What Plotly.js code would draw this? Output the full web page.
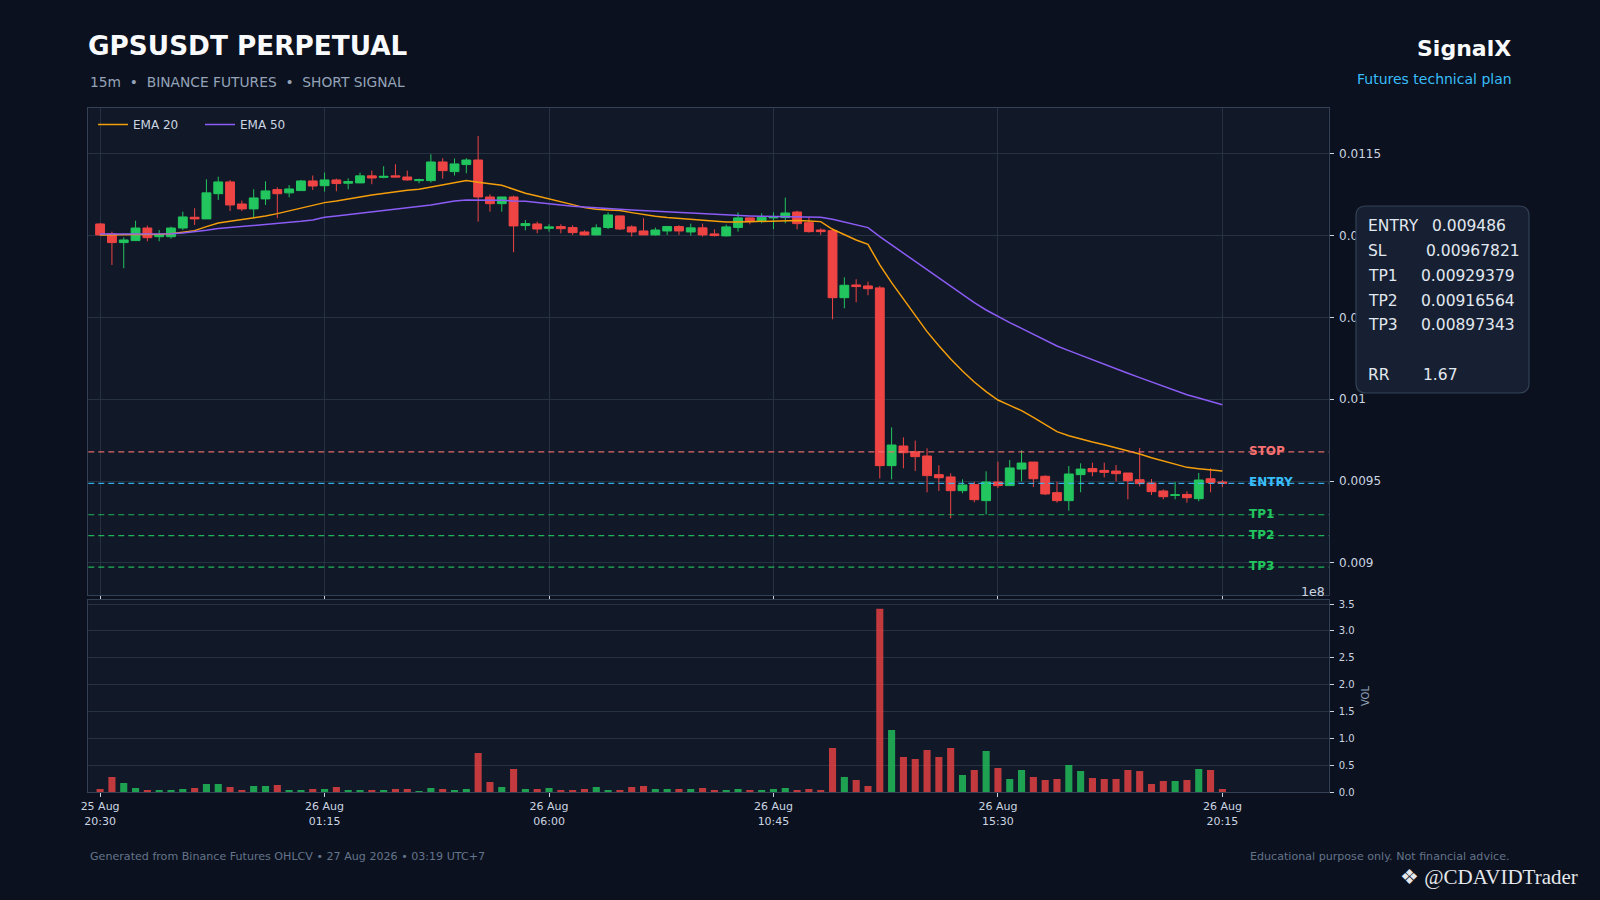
<!DOCTYPE html>
<html>
<head>
<meta charset="utf-8">
<script src="https://cdn.plot.ly/plotly-3.0.1.min.js"></script>
<style>
  html, body { margin: 0; padding: 0; background: #0b111e; }
  #chart { width: 1600px; height: 900px; }
</style>
</head>
<body>
<div id="chart"></div>
<script>
/* ── GPSUSDT 15m candles ── */

const OPEN = [
  0.011072, 0.011011, 0.010958, 0.010970, 0.011047, 0.010994, 0.010994, 0.011047, 0.011113, 0.011103,
  0.011257, 0.011329, 0.011194, 0.011164, 0.011225, 0.011282, 0.011262, 0.011276, 0.011335, 0.011306,
  0.011341, 0.011321, 0.011323, 0.011366, 0.011357, 0.011366, 0.011359, 0.011337, 0.011337, 0.011451,
  0.011392, 0.011435, 0.011463, 0.011237, 0.011196, 0.011237, 0.011062, 0.011072, 0.011045, 0.011056,
  0.011050, 0.011023, 0.011005, 0.011050, 0.011121, 0.011054, 0.011029, 0.011005, 0.011029, 0.011056,
  0.011023, 0.011048, 0.011011, 0.010999, 0.011050, 0.011109, 0.011090, 0.011109, 0.011111, 0.011145,
  0.011080, 0.011035, 0.011031, 0.010621, 0.010699, 0.010693, 0.010681, 0.009594, 0.009714, 0.009679,
  0.009653, 0.009539, 0.009525, 0.009441, 0.009478, 0.009380, 0.009494, 0.009472, 0.009573, 0.009616,
  0.009529, 0.009429, 0.009380, 0.009539, 0.009576, 0.009565, 0.009561, 0.009549, 0.009508, 0.009488,
  0.009439, 0.009412, 0.009418, 0.009392, 0.009514, 0.009494
];
const HIGH = [
  0.011078, 0.011025, 0.010990, 0.011092, 0.011062, 0.011035, 0.011056, 0.011147, 0.011168, 0.011345,
  0.011361, 0.011341, 0.011215, 0.011284, 0.011333, 0.011296, 0.011310, 0.011341, 0.011368, 0.011386,
  0.011349, 0.011351, 0.011386, 0.011398, 0.011425, 0.011437, 0.011398, 0.011349, 0.011498, 0.011474,
  0.011472, 0.011474, 0.011610, 0.011253, 0.011237, 0.011245, 0.011096, 0.011086, 0.011070, 0.011070,
  0.011064, 0.011033, 0.011070, 0.011143, 0.011123, 0.011064, 0.011107, 0.011050, 0.011060, 0.011064,
  0.011074, 0.011074, 0.011039, 0.011068, 0.011143, 0.011111, 0.011137, 0.011143, 0.011233, 0.011153,
  0.011113, 0.011045, 0.011045, 0.010746, 0.010734, 0.010719, 0.010693, 0.009828, 0.009767, 0.009747,
  0.009700, 0.009596, 0.009547, 0.009510, 0.009496, 0.009559, 0.009618, 0.009629, 0.009688, 0.009616,
  0.009535, 0.009496, 0.009592, 0.009608, 0.009612, 0.009612, 0.009598, 0.009549, 0.009702, 0.009512,
  0.009449, 0.009494, 0.009437, 0.009549, 0.009578, 0.009506
];
const LOW = [
  0.011000, 0.010821, 0.010801, 0.010970, 0.010966, 0.010966, 0.010982, 0.011035, 0.011066, 0.011103,
  0.011219, 0.011151, 0.011151, 0.011107, 0.011188, 0.011107, 0.011235, 0.011274, 0.011280, 0.011270,
  0.011272, 0.011284, 0.011321, 0.011315, 0.011351, 0.011357, 0.011337, 0.011321, 0.011325, 0.011349,
  0.011368, 0.011382, 0.011086, 0.011147, 0.011147, 0.010899, 0.011033, 0.011015, 0.011025, 0.011015,
  0.011005, 0.011001, 0.011001, 0.011041, 0.011035, 0.010995, 0.011005, 0.011001, 0.011005, 0.011005,
  0.011001, 0.010995, 0.010995, 0.010995, 0.011025, 0.011070, 0.011076, 0.011041, 0.011076, 0.011039,
  0.011019, 0.011005, 0.010489, 0.010556, 0.010593, 0.010636, 0.009516, 0.009510, 0.009578, 0.009561,
  0.009431, 0.009439, 0.009272, 0.009425, 0.009370, 0.009296, 0.009457, 0.009472, 0.009498, 0.009463,
  0.009414, 0.009368, 0.009319, 0.009431, 0.009529, 0.009522, 0.009498, 0.009388, 0.009467, 0.009414,
  0.009388, 0.009388, 0.009368, 0.009376, 0.009431, 0.009463
];
const CLOSE = [
  0.011005, 0.010958, 0.010974, 0.011047, 0.010988, 0.011007, 0.011047, 0.011115, 0.011103, 0.011262,
  0.011329, 0.011188, 0.011164, 0.011231, 0.011274, 0.011257, 0.011286, 0.011335, 0.011304, 0.011341,
  0.011319, 0.011331, 0.011366, 0.011353, 0.011363, 0.011359, 0.011341, 0.011343, 0.011451, 0.011398,
  0.011439, 0.011463, 0.011237, 0.011196, 0.011237, 0.011060, 0.011074, 0.011041, 0.011054, 0.011043,
  0.011019, 0.011005, 0.011048, 0.011127, 0.011041, 0.011023, 0.011005, 0.011035, 0.011056, 0.011029,
  0.011048, 0.011005, 0.011001, 0.011054, 0.011109, 0.011086, 0.011113, 0.011115, 0.011139, 0.011074,
  0.011025, 0.011025, 0.010621, 0.010697, 0.010689, 0.010676, 0.009594, 0.009720, 0.009673, 0.009649,
  0.009533, 0.009520, 0.009441, 0.009476, 0.009386, 0.009494, 0.009472, 0.009580, 0.009610, 0.009514,
  0.009421, 0.009380, 0.009543, 0.009573, 0.009557, 0.009553, 0.009545, 0.009502, 0.009484, 0.009435,
  0.009404, 0.009416, 0.009398, 0.009506, 0.009490, 0.009486
];
const VOLUME = [
  5.6e6, 27.9e6, 16.8e6, 7.5e6, 3.7e6, 3.7e6, 3.7e6, 5.6e6, 7.5e6, 14.9e6,
  14.9e6, 9.3e6, 3.7e6, 11.2e6, 11.2e6, 13.0e6, 3.7e6, 3.7e6, 5.6e6, 5.6e6,
  9.3e6, 3.7e6, 3.7e6, 3.7e6, 3.7e6, 5.6e6, 5.6e6, 1.9e6, 7.5e6, 5.6e6,
  3.7e6, 5.6e6, 72.6e6, 18.6e6, 9.3e6, 42.8e6, 5.6e6, 5.6e6, 7.5e6, 3.7e6,
  3.7e6, 5.6e6, 9.3e6, 3.7e6, 3.7e6, 9.3e6, 11.2e6, 5.6e6, 5.6e6, 5.6e6,
  5.6e6, 7.5e6, 3.7e6, 3.7e6, 5.6e6, 3.7e6, 3.7e6, 5.6e6, 7.5e6, 3.7e6,
  5.6e6, 3.7e6, 82.0e6, 28.0e6, 22.4e6, 11.2e6, 341.0e6, 115.5e6, 65.2e6, 61.5e6,
  78.3e6, 65.2e6, 82.0e6, 31.7e6, 41.0e6, 76.4e6, 44.7e6, 24.2e6, 41.0e6, 28.0e6,
  22.4e6, 24.2e6, 50.3e6, 39.1e6, 26.1e6, 24.2e6, 24.2e6, 41.0e6, 39.0e6, 14.9e6,
  20.5e6, 20.5e6, 22.3e6, 42.8e6, 41.0e6, 5.6e6
];
const EMA20 = [
  0.0110046, 0.0110046, 0.0110046, 0.0110046, 0.0110067, 0.0110087, 0.0110128, 0.0110209, 0.0110311, 0.0110556,
  0.0110780, 0.0110882, 0.0110984, 0.0111065, 0.0111208, 0.0111351, 0.0111514, 0.0111677, 0.0111820, 0.0112024,
  0.0112126, 0.0112228, 0.0112370, 0.0112493, 0.0112595, 0.0112697, 0.0112778, 0.0112839, 0.0112962, 0.0113084,
  0.0113206, 0.0113369, 0.0113267, 0.0113186, 0.0113084, 0.0112839, 0.0112595, 0.0112432, 0.0112269, 0.0112085,
  0.0111902, 0.0111718, 0.0111616, 0.0111576, 0.0111535, 0.0111412, 0.0111290, 0.0111188, 0.0111107, 0.0111045,
  0.0110984, 0.0110923, 0.0110862, 0.0110842, 0.0110842, 0.0110862, 0.0110882, 0.0110903, 0.0110923, 0.0110923,
  0.0110903, 0.0110862, 0.0110393, 0.0110046, 0.0109740, 0.0109475, 0.0108211, 0.0107131, 0.0106111, 0.0105092,
  0.0104134, 0.0103278, 0.0102462, 0.0101728, 0.0101055, 0.0100464, 0.0099955, 0.0099628, 0.0099302, 0.0098894,
  0.0098466, 0.0098018, 0.0097773, 0.0097569, 0.0097386, 0.0097223, 0.0097039, 0.0096876, 0.0096652, 0.0096428,
  0.0096224, 0.0096020, 0.0095836, 0.0095755, 0.0095694, 0.0095612
];
const EMA50 = [
  0.0110107, 0.0110107, 0.0110107, 0.0110107, 0.0110107, 0.0110107, 0.0110128, 0.0110169, 0.0110230, 0.0110332,
  0.0110434, 0.0110495, 0.0110536, 0.0110597, 0.0110678, 0.0110739, 0.0110801, 0.0110882, 0.0110964, 0.0111127,
  0.0111208, 0.0111290, 0.0111371, 0.0111453, 0.0111535, 0.0111616, 0.0111677, 0.0111759, 0.0111881, 0.0112003,
  0.0112126, 0.0112187, 0.0112187, 0.0112187, 0.0112166, 0.0112126, 0.0112106, 0.0112024, 0.0111943, 0.0111861,
  0.0111800, 0.0111759, 0.0111698, 0.0111657, 0.0111616, 0.0111576, 0.0111535, 0.0111494, 0.0111474, 0.0111453,
  0.0111412, 0.0111372, 0.0111331, 0.0111290, 0.0111249, 0.0111209, 0.0111188, 0.0111168, 0.0111147, 0.0111147,
  0.0111127, 0.0111127, 0.0111004, 0.0110821, 0.0110658, 0.0110495, 0.0109944, 0.0109435, 0.0108925, 0.0108436,
  0.0107906, 0.0107396, 0.0106886, 0.0106377, 0.0105907, 0.0105459, 0.0105051, 0.0104684, 0.0104338, 0.0103971,
  0.0103624, 0.0103257, 0.0102972, 0.0102686, 0.0102401, 0.0102136, 0.0101871, 0.0101586, 0.0101320, 0.0101055,
  0.0100790, 0.0100525, 0.0100280, 0.0100077, 0.0099873, 0.0099669
];

const X_TICK_IDX  = [0, 19, 38, 57, 76, 95];
const X_TICK_DATE = ['25 Aug', '26 Aug', '26 Aug', '26 Aug', '26 Aug', '26 Aug'];
const X_TICK_TIME = ['20:30', '01:15', '06:00', '10:45', '15:30', '20:15'];

const PRICE_TICKS = [0.009, 0.0095, 0.01, 0.0105, 0.011, 0.0115];
const VOL_TICKS   = [0, 0.5, 1.0, 1.5, 2.0, 2.5, 3.0, 3.5];   // x 1e8

const LEVEL_NAMES  = ['STOP', 'ENTRY', 'TP1', 'TP2', 'TP3'];
const LEVEL_PRICES = [0.00967821, 0.009486, 0.00929379, 0.00916564, 0.00897343];
const BOX_NAMES    = ['ENTRY', 'SL', 'TP1', 'TP2', 'TP3'];
const BOX_PRICES   = [0.009486, 0.00967821, 0.00929379, 0.00916564, 0.00897343];
const RR = 1.67;

/* ── style ── */
const FONT     = 'DejaVu Sans, Verdana, sans-serif';
const BG       = '#0b111e';
const PLOT_BG  = '#111827';
const GRID     = '#263142';
const SPINE    = '#334155';
const TICK_C   = '#cbd5e1';
const UP       = '#22c55e';
const DOWN     = '#ef4444';
const LEVEL_COLORS = ['#f87171', '#38bdf8', '#22c55e', '#22c55e', '#22c55e'];

const W = 1600, H = 900;
const PX = x => x / W;
const PY = y => 1 - y / H;

const X = OPEN.map((_, i) => i);

const traces = [
  {
    type: 'candlestick',
    x: X, open: OPEN, high: HIGH, low: LOW, close: CLOSE,
    xaxis: 'x', yaxis: 'y',
    increasing: { line: { color: UP, width: 1 }, fillcolor: UP },
    decreasing: { line: { color: DOWN, width: 1 }, fillcolor: DOWN },
    whiskerwidth: 0,
    showlegend: false,
    hoverinfo: 'skip',
  },
  {
    type: 'scatter', mode: 'lines', name: 'EMA 20',
    x: X, y: EMA20, xaxis: 'x', yaxis: 'y',
    line: { color: '#f59e0b', width: 1.5 },
  },
  {
    type: 'scatter', mode: 'lines', name: 'EMA 50',
    x: X, y: EMA50, xaxis: 'x', yaxis: 'y',
    line: { color: '#8b5cf6', width: 1.5 },
  },
  {
    type: 'bar', x: X, y: VOLUME, xaxis: 'x2', yaxis: 'y2',
    width: 0.6,
    marker: { color: X.map(i => CLOSE[i] >= OPEN[i] ? 'rgba(34,197,94,0.8)' : 'rgba(239,68,68,0.8)') },
    showlegend: false,
    hoverinfo: 'skip',
  },
];

function note(text, x, y, opts = {}) {
  return Object.assign({
    text, x: PX(x), y: PY(y), xref: 'paper', yref: 'paper',
    xanchor: 'left', yanchor: 'middle', showarrow: false,
    font: { family: FONT, size: 12, color: TICK_C },
  }, opts);
}

function roundedBox(x0, y0, x1, y1, r) {
  const p = (x, y) => `${PX(x)},${PY(y)}`;
  return `M${p(x0 + r, y0)} L${p(x1 - r, y0)} Q${p(x1, y0)} ${p(x1, y0 + r)} ` +
         `L${p(x1, y1 - r)} Q${p(x1, y1)} ${p(x1 - r, y1)} L${p(x0 + r, y1)} ` +
         `Q${p(x0, y1)} ${p(x0, y1 - r)} L${p(x0, y0 + r)} Q${p(x0, y0)} ${p(x0 + r, y0)} Z`;
}

const shapes = LEVEL_PRICES.map((v, i) => ({
  type: 'line', xref: 'x domain', x0: 0, x1: 1, yref: 'y', y0: v, y1: v,
  line: { color: LEVEL_COLORS[i], width: 1.2, dash: '6px,4px' },
  opacity: 0.9, layer: 'above',
}));
shapes.push({
  type: 'path', xref: 'paper', yref: 'paper', layer: 'above',
  path: roundedBox(1356, 206, 1529, 393, 10),
  fillcolor: '#162032', line: { color: SPINE, width: 1.2 },
});

const annotations = [
  note('15m\u00a0\u00a0•\u00a0\u00a0BINANCE FUTURES\u00a0\u00a0•\u00a0\u00a0SHORT SIGNAL', 88, 82,
       { font: { family: FONT, size: 13.8, color: '#94a3b8' } }),
  note('SignalX', 1513, 48, { xanchor: 'right', font: { family: FONT, size: 22, color: '#f8fafc', weight: 'bold' } }),
  note('Futures technical plan', 1514, 79, { xanchor: 'right', font: { family: FONT, size: 14, color: '#38bdf8' } }),
  note('Generated from Binance Futures OHLCV • 27 Aug 2026 • 03:19 UTC+7', 88, 856,
       { font: { family: FONT, size: 11.1, color: '#64748b' } }),
  note('Educational purpose only. Not financial advice.', 1512, 856,
       { xanchor: 'right', font: { family: FONT, size: 11.1, color: '#64748b' } }),
  note('1e8', 1327, 591, { xanchor: 'right', font: { family: FONT, size: 12.5, color: TICK_C } }),
  // watermark
  note('❖ @CDAVIDTrader', 1398, 877, { font: { family: 'Liberation Serif, serif', size: 21, color: '#e5e7eb' } }),
];

LEVEL_NAMES.forEach((name, i) => {
  annotations.push({
    text: name, xref: 'paper', x: PX(1247), yref: 'y', y: LEVEL_PRICES[i],
    xanchor: 'left', yanchor: 'middle', showarrow: false, yshift: 1,
    font: { family: FONT, size: 12, color: LEVEL_COLORS[i], weight: 'bold' },
  });
});

const BOX_ROWS_Y = [226, 251, 276, 301, 325];
const BOX_VAL_X  = [1430, 1424, 1419, 1419, 1419];
const boxFont = { family: FONT, size: 15.5, color: '#e2e8f0' };
BOX_NAMES.forEach((name, i) => {
  annotations.push(note(name, 1366, BOX_ROWS_Y[i], { font: boxFont }));
  annotations.push(note(String(BOX_PRICES[i]), BOX_VAL_X[i], BOX_ROWS_Y[i], { font: boxFont }));
});
annotations.push(note('RR', 1366, 375, { font: boxFont }));
annotations.push(note(RR.toFixed(2), 1421, 375, { font: boxFont }));

const axisBase = {
  showline: true, linecolor: SPINE, linewidth: 1, mirror: true,
  zeroline: false, gridcolor: GRID, gridwidth: 1,
  ticks: 'outside', ticklen: 4, tickcolor: TICK_C, tickwidth: 1,
  tickfont: { family: FONT, size: 11, color: TICK_C },
};

const layout = {
  width: W, height: H,
  margin: { l: 0, r: 0, t: 0, b: 0 },
  paper_bgcolor: BG,
  plot_bgcolor: PLOT_BG,
  font: { family: FONT, color: TICK_C },
  boxgap: 0.25, boxgroupgap: 0,
  showlegend: true,
  legend: {
    orientation: 'h', x: PX(93), y: PY(110), xanchor: 'left', yanchor: 'top',
    bgcolor: 'rgba(0,0,0,0)', borderwidth: 0,
    font: { family: FONT, size: 12, color: TICK_C },
    entrywidth: 62,
  },
  title: {
    text: 'GPSUSDT PERPETUAL', xref: 'paper', yref: 'paper',
    x: PX(88), xanchor: 'left', y: PY(46), yanchor: 'middle',
    font: { family: FONT, size: 26.3, color: '#f8fafc', weight: 'bold' },
  },
  xaxis: Object.assign({}, axisBase, {
    domain: [PX(88.3), PX(1328.7)], range: [-1, 104], anchor: 'y',
    tickvals: X_TICK_IDX, showticklabels: false, showgrid: true,
    rangeslider: { visible: false },
  }),
  yaxis: Object.assign({}, axisBase, {
    domain: [PY(595), PY(108)], range: [0.008803, 0.011781], anchor: 'x', side: 'right',
    tickvals: PRICE_TICKS, ticktext: PRICE_TICKS.map(String), showgrid: true,
    ticklabelstandoff: 3,
    tickfont: { family: FONT, size: 12, color: TICK_C },
  }),
  xaxis2: Object.assign({}, axisBase, {
    domain: [PX(88.3), PX(1328.7)], range: [-1, 104], anchor: 'y2',
    tickvals: X_TICK_IDX,
    ticktext: X_TICK_IDX.map((_, i) => `${X_TICK_DATE[i]}<br>${X_TICK_TIME[i]}`),
    showgrid: false,
  }),
  yaxis2: Object.assign({}, axisBase, {
    domain: [PY(792), PY(600)], range: [0, 3.575e8], anchor: 'x2', side: 'right',
    tickvals: VOL_TICKS.map(v => v * 1e8), ticktext: VOL_TICKS.map(v => v.toFixed(1)),
    showgrid: true,
    ticklabelstandoff: 3,
    tickfont: { family: FONT, size: 10, color: TICK_C },
    title: { text: 'VOL', font: { family: FONT, size: 10, color: '#94a3b8' }, standoff: 8 },
  }),
  shapes,
  annotations,
};

Plotly.newPlot('chart', traces, layout, { displayModeBar: false, staticPlot: true });
</script>
</body>
</html>
